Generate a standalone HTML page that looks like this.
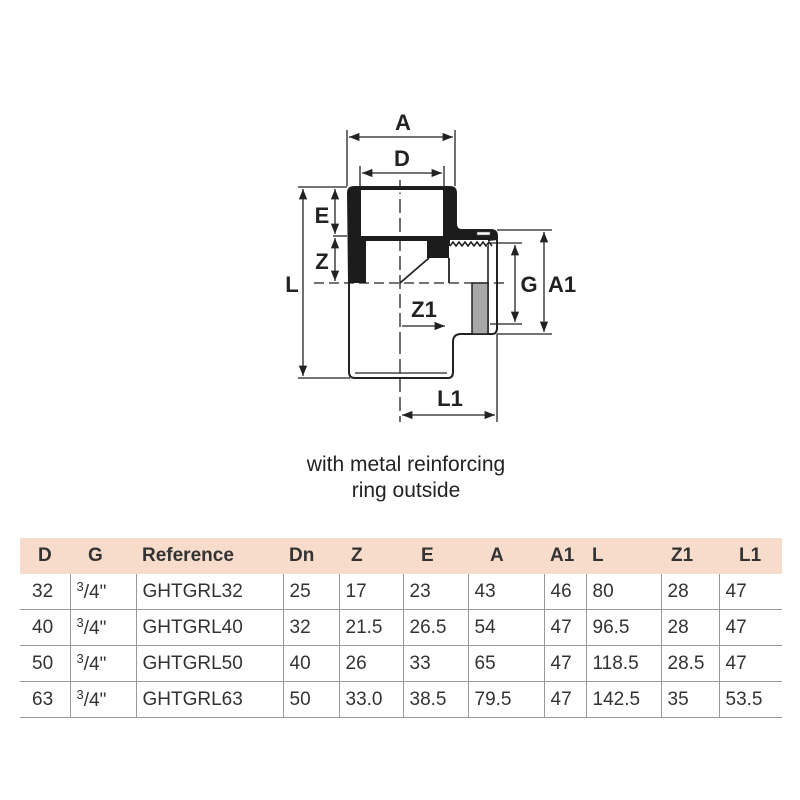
<!DOCTYPE html>
<html><head><style>
body{margin:0;background:#fff;width:800px;height:800px;overflow:hidden;position:relative;font-family:"Liberation Sans",sans-serif;}
svg{position:absolute;left:0;top:0}
.cap{position:absolute;left:0;width:812px;text-align:center;font-size:21px;color:#222;line-height:26px}
table{position:absolute;left:20px;top:538px;border-collapse:collapse;font-size:19px;color:#333;table-layout:fixed;width:762px}
td,th{height:35px;padding:0 0 0 6px;text-align:left;border-left:1.5px solid #999;border-bottom:1.5px solid #999;white-space:nowrap;overflow:hidden}
th{background:#f8dccb;border:none;font-weight:bold;height:36px}
td:first-child{border-left:none;padding-left:12px}
sup{font-size:13px;vertical-align:7px}
</style></head><body>
<svg width="800" height="800" viewBox="0 0 800 800" font-family="Liberation Sans" font-weight="bold" fill="#222">
<defs><marker id="a" viewBox="0 0 10 10" refX="10" refY="5" markerWidth="8" markerHeight="8" orient="auto-start-reverse"><path d="M0,1 L10,5 L0,9 z" fill="#222"/></marker></defs>
<g stroke="#222" stroke-width="1.3" fill="none">
<line x1="347" y1="130" x2="347" y2="186"/><line x1="455" y1="130" x2="455" y2="186"/>
<line x1="360" y1="166" x2="360" y2="190"/><line x1="444" y1="166" x2="444" y2="190"/>
<line x1="298" y1="187" x2="347" y2="187"/><line x1="298" y1="378" x2="350" y2="378"/>
<line x1="333" y1="236" x2="347" y2="236"/>
<line x1="497" y1="230" x2="552" y2="230"/><line x1="497" y1="334" x2="552" y2="334"/>
<line x1="490" y1="243" x2="522" y2="243"/><line x1="490" y1="324" x2="522" y2="324"/>
<line x1="497" y1="334" x2="497" y2="422"/>
<line x1="400" y1="340" x2="400" y2="422" stroke-dasharray="14,5"/>
<line x1="349" y1="137" x2="453" y2="137" marker-start="url(#a)" marker-end="url(#a)"/>
<line x1="362" y1="173" x2="442" y2="173" marker-start="url(#a)" marker-end="url(#a)"/>
<line x1="303" y1="189" x2="303" y2="376" marker-start="url(#a)" marker-end="url(#a)"/>
<line x1="335" y1="189" x2="335" y2="234" marker-start="url(#a)" marker-end="url(#a)"/>
<line x1="335" y1="238" x2="335" y2="281" marker-start="url(#a)" marker-end="url(#a)"/>
<line x1="544" y1="232" x2="544" y2="332" marker-start="url(#a)" marker-end="url(#a)"/>
<line x1="515" y1="245" x2="515" y2="322" marker-start="url(#a)" marker-end="url(#a)"/>
<line x1="402" y1="326" x2="445" y2="326" marker-end="url(#a)"/>
<line x1="402" y1="415" x2="495" y2="415" marker-start="url(#a)" marker-end="url(#a)"/>
<line x1="400" y1="180" x2="400" y2="340" stroke-dasharray="14,5"/>
<line x1="314" y1="283" x2="508" y2="283" stroke-dasharray="10,5"/>
<path d="M349,283 L349,372 Q349,378 355,378 L448,378 Q453,378 453,372 L453,342 Q453,334 461,334 L492,334 Q497,334 497,328 L497,236 Q497,230 491,230 L462,230 Q456,230 456,224 L456,193 Q456,187 450,187 L354,187 Q348,187 348,193 Z" stroke-width="2"/>
<line x1="355" y1="373" x2="447" y2="373"/>
<line x1="449" y1="258" x2="449" y2="283" stroke-width="1.8"/>
<line x1="488" y1="242" x2="488" y2="334" stroke-width="1.6"/>
<line x1="400" y1="283" x2="429" y2="258" stroke-width="1.8"/>
</g>
<path d="M348,193 Q348,187 354,187 L450,187 Q456,187 456,193 L456,224 Q456,230 462,230 L491,230 Q497,230 497,236 L497,240 L449,246 L449,258 L427,258 L427,241 L366,241 L366,283 L348,283 Z M361,192 L361,236 L443,236 L443,192 Z" fill="#1c1c1c" fill-rule="evenodd"/>
<rect x="361" y="190" width="82" height="2.5" fill="#fff"/>
<path d="M450,240 L488,240 L488,246 L450,246 Z" fill="#fff"/>
<path d="M450,246 l3,-4 l3,4 l3,-4 l3,4 l3,-4 l3,4 l3,-4 l3,4 l3,-4 l3,4 l3,-4 l3,4 l3,-4 l3,4" stroke="#1c1c1c" stroke-width="1.5" fill="none"/>
<rect x="477" y="232" width="13" height="3" fill="#fff" stroke="#555" stroke-width="0.6"/>
<rect x="472" y="283" width="16" height="51" fill="#a8a8a8" stroke="#222" stroke-width="1.5"/>
<g font-size="22" text-anchor="middle">
<text x="403" y="130">A</text>
<text x="402" y="166">D</text>
<text x="322" y="223">E</text>
<text x="322" y="269">Z</text>
<text x="292" y="292">L</text>
<text x="424" y="317">Z1</text>
<text x="529" y="292">G</text>
<text x="562" y="292">A1</text>
<text x="450" y="406">L1</text>
</g>
</svg>
<div class="cap" style="top:452px">with metal reinforcing<br>ring outside</div>
<table>
<colgroup><col style="width:50px"><col style="width:66px"><col style="width:147px"><col style="width:56px"><col style="width:64px"><col style="width:65px"><col style="width:76px"><col style="width:42px"><col style="width:75px"><col style="width:58px"><col style="width:63px"></colgroup>
<tr><th style="padding-left:18px">D</th><th style="padding-left:18px">G</th><th>Reference</th><th>Dn</th><th style="padding-left:12px">Z</th><th style="padding-left:18px">E</th><th style="padding-left:22px">A</th><th>A1</th><th>L</th><th style="padding-left:10px">Z1</th><th style="padding-left:20px">L1</th></tr>
<tr><td>32</td><td><sup>3</sup>/4"</td><td>GHTGRL32</td><td>25</td><td>17</td><td>23</td><td>43</td><td>46</td><td>80</td><td>28</td><td>47</td></tr>
<tr><td>40</td><td><sup>3</sup>/4"</td><td>GHTGRL40</td><td>32</td><td>21.5</td><td>26.5</td><td>54</td><td>47</td><td>96.5</td><td>28</td><td>47</td></tr>
<tr><td>50</td><td><sup>3</sup>/4"</td><td>GHTGRL50</td><td>40</td><td>26</td><td>33</td><td>65</td><td>47</td><td>118.5</td><td>28.5</td><td>47</td></tr>
<tr><td>63</td><td><sup>3</sup>/4"</td><td>GHTGRL63</td><td>50</td><td>33.0</td><td>38.5</td><td>79.5</td><td>47</td><td>142.5</td><td>35</td><td>53.5</td></tr>
</table>
</body></html>
